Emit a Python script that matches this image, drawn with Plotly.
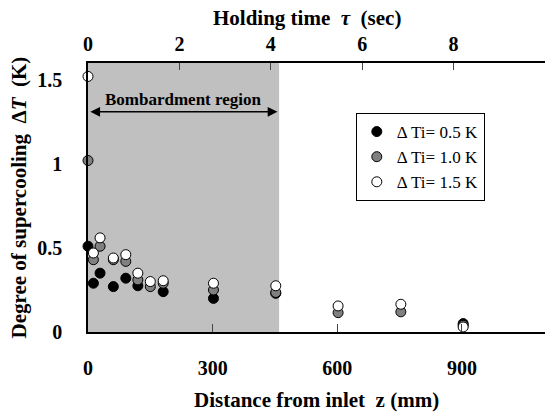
import plotly.graph_objects as go

# Distance from inlet z (mm) and degree of supercooling dT (K) for each inlet supercooling
z_05 = [0, 13, 29, 61, 91, 120, 181, 302, 452, 903]
dT_05 = [0.51, 0.29, 0.35, 0.27, 0.32, 0.275, 0.24, 0.20, 0.23, 0.05]

z_10 = [0, 13, 29, 61, 91, 120, 150, 181, 302, 452, 602, 753, 903]
dT_10 = [1.02, 0.43, 0.51, 0.43, 0.42, 0.31, 0.27, 0.29, 0.25, 0.235, 0.115, 0.12, 0.04]

z_15 = [0, 13, 29, 61, 91, 120, 150, 181, 302, 452, 602, 753, 903]
dT_15 = [1.52, 0.47, 0.56, 0.44, 0.46, 0.35, 0.30, 0.305, 0.29, 0.275, 0.155, 0.165, 0.03]

series_names = ["\u0394 Ti= 0.5 K", "\u0394 Ti= 1.0 K", "\u0394 Ti= 1.5 K"]
series_fill = ["black", "#808080", "white"]

z_ticks = [0, 300, 600, 900]
tau_ticks = [0, 2, 4, 6, 8]
dT_ticks = [0, 0.5, 1, 1.5]
dT_tick_text = ["0", "0.5", "1", "1.5"]

z_max = 1100
tau_max = 10
dT_max = 1.6
bombard_end = 460

FONT = "Liberation Serif"

fig = go.Figure()

for zs, ds, name, col in zip([z_05, z_10, z_15], [dT_05, dT_10, dT_15], series_names, series_fill):
    fig.add_trace(go.Scatter(
        x=zs, y=ds, mode="markers", name=name, cliponaxis=False,
        marker=dict(size=10, color=col, line=dict(color="black", width=1)),
    ))

# Dummy trace carrying the holding-time axis on top
fig.add_trace(go.Scatter(x=[0], y=[0], xaxis="x2", mode="markers",
                         marker=dict(opacity=0), showlegend=False, hoverinfo="skip"))

fig.add_shape(type="rect", xref="x", yref="y", x0=0, x1=bombard_end, y0=0, y1=dT_max,
              fillcolor="#c0c0c0", line=dict(width=0), layer="below")

# Double-headed arrow spanning the bombardment region
fig.add_annotation(x=bombard_end - 4, y=1.31, ax=2, ay=1.31, xref="x", yref="y",
                   axref="x", ayref="y", text="", showarrow=True,
                   arrowhead=2, startarrowhead=2, arrowside="end+start",
                   arrowsize=1.3, startarrowsize=1.3, arrowwidth=1.5, arrowcolor="black")
fig.add_annotation(x=bombard_end / 2, y=1.38, xref="x", yref="y", text="<b>Bombardment region</b>",
                   showarrow=False, font=dict(family=FONT, size=17, color="black"))

axis_font = dict(family=FONT, size=21, color="black", weight="bold")

fig.add_annotation(x=0.5, y=0, yshift=-68, xref="paper", yref="paper",
                   xanchor="center", yanchor="middle",
                   text="<b>Distance from inlet  z (mm)</b>", showarrow=False,
                   font=axis_font)
fig.add_annotation(x=0.48, y=1, yshift=45, xref="paper", yref="paper",
                   xanchor="center", yanchor="middle",
                   text="<b>Holding time  <i>\u03c4</i>  (sec)</b>", showarrow=False,
                   font=axis_font)
fig.add_annotation(x=0, xshift=-70, y=0.5, xref="paper", yref="paper", textangle=-90,
                   xanchor="center", yanchor="middle",
                   text="<b>Degree of supercooling  \u0394<i>T</i>  (K)</b>", showarrow=False,
                   font=axis_font)

tick_font = dict(family=FONT, size=20, color="black", weight="bold")

fig.update_layout(
    width=545, height=416,
    margin=dict(l=88, r=0, t=63, b=84, autoexpand=False),
    plot_bgcolor="white", paper_bgcolor="white",
    showlegend=True,
    legend=dict(x=0.586, y=0.814, xanchor="left", yanchor="top",
                bgcolor="white", bordercolor="black", borderwidth=1,
                font=dict(family=FONT, size=17, color="black"),
                itemwidth=30, tracegroupgap=0),
    xaxis=dict(range=[0, z_max], tickvals=z_ticks, ticks="inside", ticklen=8,
               tickcolor="#444", showgrid=False, zeroline=False, automargin=False,
               showline=True, linecolor="black", linewidth=1.5,
               tickfont=tick_font, ticklabelstandoff=17),
    xaxis2=dict(range=[0, tau_max], tickvals=tau_ticks, overlaying="x", side="top",
                ticks="inside", ticklen=7, tickcolor="#444", showgrid=False, zeroline=False,
                automargin=False, showline=True, linecolor="black", linewidth=1.5,
                tickfont=tick_font, ticklabelstandoff=2),
    yaxis=dict(range=[0, dT_max], tickvals=dT_ticks, ticktext=dT_tick_text,
               ticks="", showgrid=False, zeroline=False, automargin=False,
               showline=True, linecolor="black", linewidth=1.5,
               tickfont=tick_font, ticklabelstandoff=20),
)

fig.write_html("out.html")
